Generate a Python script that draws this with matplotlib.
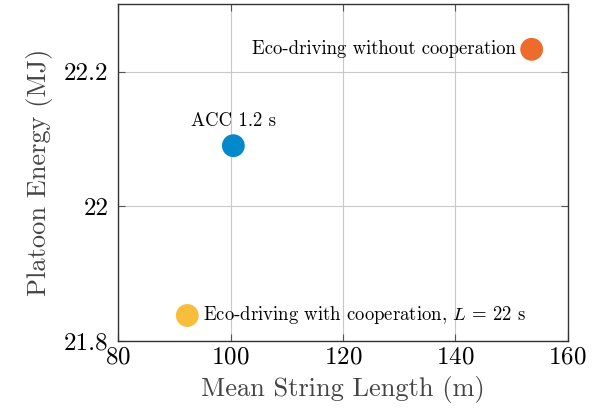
import numpy as np
import matplotlib.pyplot as plt

plt.rcParams['font.family'] = 'serif'
plt.rcParams['font.serif'] = ['cmr10']
plt.rcParams['mathtext.fontset'] = 'cm'
plt.rcParams['axes.formatter.use_mathtext'] = True

# data
labels = ['Eco-driving without cooperation', 'ACC 1.2 s',
          r'Eco-driving with cooperation, $L$ = 22 s']
string_len = [153.6, 100.5, 92.3]
energy = [22.233, 22.09, 21.838]
colors = ['#ec6b2d', '#0189cc', '#f7bd3b']

fig = plt.figure(figsize=(6.0, 4.17), dpi=100)
ax = fig.add_axes([0.197, 0.182, 0.749, 0.808])

ax.grid(True, color='#c8c8c8', linewidth=0.8)
ax.set_axisbelow(True)
ax.scatter(string_len, energy, s=270, c=colors, zorder=3, linewidths=0)

ax.annotate(labels[0], (string_len[0], energy[0]), xytext=(-11.5, 0),
            textcoords='offset points', ha='right', va='center', fontsize=13.5)
ax.annotate(labels[1], (string_len[1], energy[1]), xytext=(0, 11),
            textcoords='offset points', ha='center', va='bottom', fontsize=13.5)
ax.annotate(labels[2], (string_len[2], energy[2]), xytext=(11.5, 0),
            textcoords='offset points', ha='left', va='center', fontsize=13.5)

ax.set_xlim(80, 160)
ax.set_ylim(21.8, 22.3)
ax.set_xticks([80, 100, 120, 140, 160])
ax.set_yticks([21.8, 22.0, 22.2])
ax.set_yticklabels(['21.8', '22', '22.2'])
ax.tick_params(direction='in', top=True, right=True, labelsize=18, length=5,
               color='#555555')
ax.tick_params(axis='y', pad=7)
for s in ax.spines.values():
    s.set_color('#333333')
    s.set_linewidth(1.0)

ax.set_xlabel('Mean String Length (m)', fontsize=19, color='#444444', labelpad=6)
ax.set_ylabel('Platoon Energy (MJ)', fontsize=19, color='#444444', labelpad=8)

fig.savefig('out.png', dpi=100)
